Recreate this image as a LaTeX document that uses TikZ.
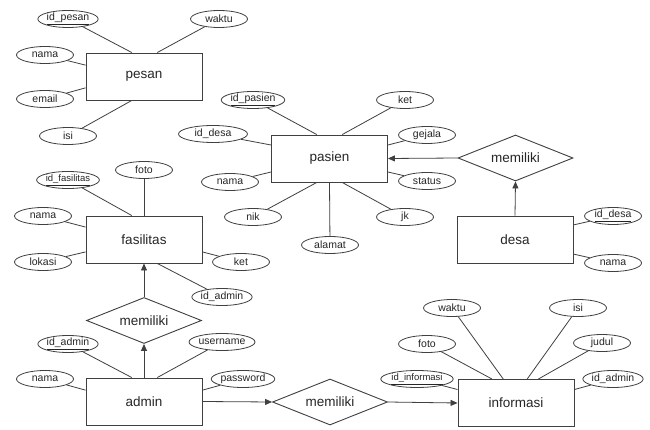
\documentclass[tikz,border=0pt]{standalone}
\usepackage{fontspec}
\setmainfont{Liberation Sans}
\usetikzlibrary{shapes.geometric,arrows.meta}
\begin{document}
\begin{tikzpicture}[x=1pt,y=-1pt,
 ent/.style={draw=black!75,line width=0.9pt,minimum width=116pt,minimum height=47pt,inner sep=0pt,text=black!85,font=\fontsize{13.5}{15}\selectfont},
 attr/.style={draw=black!75,line width=0.8pt,ellipse,minimum width=57pt,minimum height=17pt,inner sep=0pt,text=black!85,font=\fontsize{10.5}{11}\selectfont},
 rel/.style={draw=black!75,line width=0.9pt,diamond,aspect=2.5,minimum width=115pt,minimum height=46pt,inner sep=0pt,text=black!85,font=\fontsize{13.5}{15}\selectfont},
 link/.style={draw=black!75,line width=0.8pt},
 arr/.style={link,-{Triangle[length=7pt,width=6pt]}},
 tight/.style={font=\fontsize{9.5}{10}\selectfont}
]
\fill[white] (0,0) rectangle (650,430);
\useasboundingbox (0,0) rectangle (650,430);
% entities
\node[ent] (pesan) at (144,76.5) {pesan};
\node[ent] (pasien) at (329.5,158.5) {pasien};
\node[ent] (fasilitas) at (144,239.5) {fasilitas};
\node[ent] (desa) at (515,239.5) {desa};
\node[ent] (admin) at (144,401.5) {admin};
\node[ent] (informasi) at (516,403) {informasi};
% relations
\node[rel] (r1) at (515.5,158) {memiliki};
\node[rel] (r2) at (144,320.5) {memiliki};
\node[rel] (r3) at (330,402) {memiliki};
% pesan attributes
\node[attr] (pidp) at (68,19) {\underline{id\_pesan}};
\node[attr] (pwak) at (219,19) {waktu};
\node[attr] (pnam) at (45,55) {nama};
\node[attr] (pema) at (45,99) {email};
\node[attr] (pisi) at (68,136) {isi};
\draw[link] (pidp) -- (pesan.117);
\draw[link] (pwak) -- (pesan.61);
\draw[link] (pnam) -- (pesan.169);
\draw[link] (pema) -- (pesan.191);
\draw[link] (pisi) -- (pesan.243);
% pasien attributes
\node[attr] (sidp) at (253,100) {\underline{id\_pasien}};
\node[attr] (sket) at (405,100) {ket};
\node[attr,minimum width=69pt] (sidd) at (213,134) {id\_desa};
\node[attr] (sgej) at (427,135) {gejala};
\node[attr] (snam) at (230,182) {nama};
\node[attr] (ssta) at (427,181) {status};
\node[attr] (snik) at (253,217) {nik};
\node[attr] (sjk) at (405,217) {jk};
\node[attr] (sala) at (330,245) {alamat};
\draw[link] (sidp) -- (pasien.118);
\draw[link] (sket) -- (pasien.62);
\draw[link] (sidd) -- (pasien.167);
\draw[link] (sgej) -- (pasien.13);
\draw[link] (snam) -- (pasien.193);
\draw[link] (ssta) -- (pasien.347);
\draw[link] (snik) -- (pasien.242);
\draw[link] (sjk) -- (pasien.298);
\draw[link] (sala) -- (pasien.south);
% fasilitas attributes
\node[attr,tight] (fidf) at (68,180) {\underline{id\_fasilitas}};
\node[attr] (ffot) at (144,170) {foto};
\node[attr] (fnam) at (43,216) {nama};
\node[attr] (flok) at (43,262) {lokasi};
\node[attr] (fket) at (241,262) {ket};
\node[attr] (fida) at (222,297) {id\_admin};
\draw[link] (fidf) -- (fasilitas.117);
\draw[link] (ffot) -- (fasilitas.north);
\draw[link] (fnam) -- (fasilitas.168);
\draw[link] (flok) -- (fasilitas.192);
\draw[link] (fket) -- (fasilitas.348);
\draw[link] (fida) -- (fasilitas.299);
% desa attributes
\node[attr] (didd) at (613,216) {\underline{id\_desa}};
\node[attr] (dnam) at (613,263) {nama};
\draw[link] (didd) -- (desa.14);
\draw[link] (dnam) -- (desa.346);
% admin attributes
\node[attr] (aida) at (68,344) {\underline{id\_admin}};
\node[attr] (ausr) at (222,342) {username};
\node[attr] (anam) at (45,379) {nama};
\node[attr] (apas) at (243,379) {password};
\draw[link] (aida) -- (admin.117);
\draw[link] (ausr) -- (admin.61);
\draw[link] (anam) -- (admin.169);
\draw[link] (apas) -- (admin.11);
% informasi attributes
\node[attr] (iwak) at (452,308) {waktu};
\node[attr] (iisi) at (578,308) {isi};
\node[attr] (ifot) at (427,344) {foto};
\node[attr] (ijud) at (602,343) {judul};
\node[attr,tight] (iidi) at (417,379) {\underline{id\_informasi}};
\node[attr] (iida) at (613,379) {id\_admin};
\draw[link] (iwak) -- (informasi.118);
\draw[link] (iisi) -- (informasi.65);
\draw[link] (ifot) -- (informasi.135);
\draw[link] (ijud) -- (informasi.47);
\draw[link] (iidi) -- (informasi.167);
\draw[link] (iida) -- (informasi.13);
% relationship connectors
\draw[arr] (r1.west) -- (pasien.east);
\draw[arr] (desa.north) -- (r1.south);
\draw[arr] (admin.north) -- (r2.south);
\draw[arr] (r2.north) -- (fasilitas.south);
\draw[arr] (admin.east) -- (r3.west);
\draw[arr] (r3.east) -- (informasi.west);
\end{tikzpicture}
\end{document}
